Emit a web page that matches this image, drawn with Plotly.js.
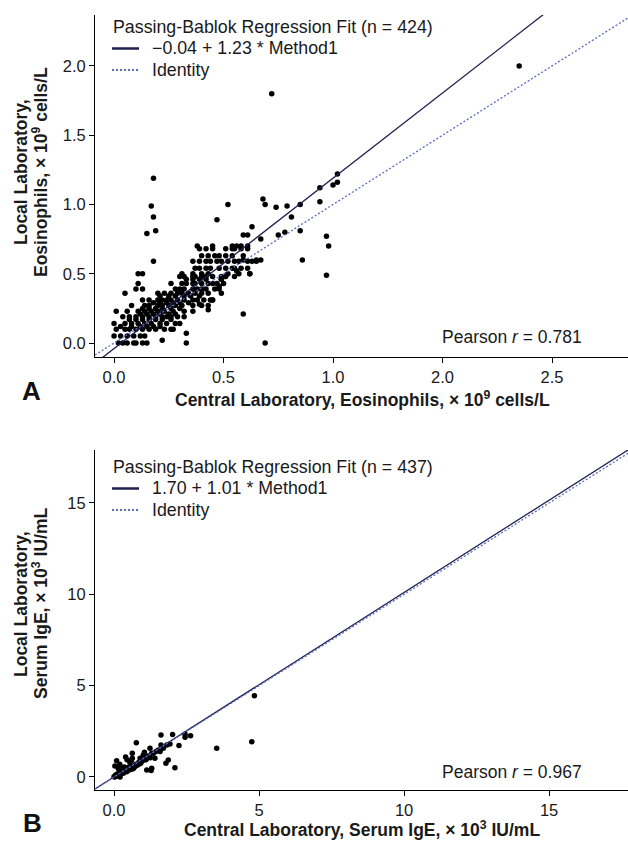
<!DOCTYPE html>
<html>
<head>
<meta charset="utf-8">
<script src="https://cdn.plot.ly/plotly-3.0.1.min.js"></script>
<style>html,body{margin:0;padding:0;background:#fff;}#chart{width:628px;height:843px;}</style>
</head>
<body>
<div id="chart"></div>
<script>
// ---------- Panel A: eosinophils (×10^9 cells/L) ----------
const xA = [
  0.02,0.04,0.06,0.09,0.10,0.13,0.15,0.33,0.69,
  0.22,0.33,
  0.00,0.03,0.06,0.09,0.12,0.14,
  0.01,0.05,0.07,0.10,0.13,0.16,0.19,0.23,0.26,0.27,
  0.03,0.08,0.12,0.15,0.18,0.21,
  0.00,0.05,0.08,0.11,0.14,0.17,0.21,0.24,0.28,0.30,
  0.07,0.10,0.13,0.16,0.19,0.22,0.26,
  0.04,0.07,0.10,0.13,0.16,0.19,0.22,0.24,0.26,0.29,0.32,
  0.12,0.15,0.18,0.21,0.25,0.28,
  0.01,0.06,0.11,0.14,0.17,0.20,0.23,0.27,0.32,0.36,
  0.13,0.16,0.19,0.22,0.26,0.30,
  0.08,0.14,0.16,0.20,0.22,0.25,0.28,0.31,0.36,0.40,0.43,
  0.18,0.21,0.24,0.27,0.30,0.34,
  0.13,0.16,0.20,0.22,0.24,0.26,0.29,0.32,0.36,0.38,0.41,0.44,0.45,
  0.21,0.25,0.28,0.32,0.35,0.39,
  0.05,0.20,0.23,0.26,0.29,0.31,0.34,0.37,0.40,0.43,0.49,
  0.10,0.13,0.28,0.30,0.32,0.36,0.38,0.40,0.42,0.46,0.48,
  0.11,0.26,0.31,0.33,0.36,0.37,0.40,0.43,0.45,0.47,0.50,
  0.33,0.36,0.39,0.42,0.49,
  0.30,0.32,0.36,0.37,0.40,0.42,0.45,0.49,0.51,0.55,
  0.11,0.13,0.31,0.36,0.40,0.43,0.52,0.57,0.62,
  0.37,0.39,0.42,0.44,0.48,0.51,0.54,0.55,0.58,0.61,
  0.18,0.36,0.39,0.42,0.44,0.47,0.49,0.52,0.55,0.57,0.61,0.63,0.65,
  0.40,0.43,0.46,0.48,0.51,0.54,0.59,
  0.39,0.42,0.45,0.51,0.54,0.55,0.58,0.61,
  0.38,0.45,0.54,0.56,0.58,0.61,
  0.59,0.61,
  0.48,0.45,0.43,0.39,0.49,0.62,0.56,0.59,0.65,0.67,
  0.18,0.17,0.18,0.19,0.15,0.52,0.47,0.68,0.69,0.74,0.79,0.85,0.94,0.94,0.81,
  0.85,0.78,0.75,0.67,0.63,0.86,0.97,0.98,0.97,1.02,1.00,1.02,0.59,0.72,1.85
];
const yA = [
  0,0,0,0,0,0,0,0,0,
  0.02,0.07,
  0.05,0.05,0.05,0.05,0.05,0.05,
  0.10,0.10,0.10,0.10,0.10,0.10,0.10,0.10,0.10,0.10,
  0.12,0.12,0.12,0.12,0.12,0.12,
  0.14,0.14,0.14,0.14,0.14,0.14,0.14,0.14,0.14,0.14,
  0.17,0.17,0.17,0.17,0.17,0.17,0.17,
  0.19,0.19,0.19,0.19,0.19,0.19,0.19,0.19,0.19,0.19,0.19,
  0.21,0.21,0.21,0.21,0.21,0.21,
  0.23,0.23,0.23,0.23,0.23,0.23,0.23,0.23,0.23,0.23,
  0.25,0.25,0.25,0.25,0.25,0.25,
  0.27,0.27,0.27,0.27,0.27,0.27,0.27,0.27,0.27,0.27,0.27,
  0.29,0.29,0.29,0.29,0.29,0.29,
  0.31,0.31,0.31,0.31,0.31,0.31,0.31,0.31,0.31,0.31,0.31,0.31,0.31,
  0.34,0.34,0.34,0.34,0.34,0.34,
  0.36,0.36,0.36,0.36,0.36,0.36,0.36,0.36,0.36,0.36,0.36,
  0.39,0.39,0.39,0.39,0.39,0.39,0.39,0.39,0.39,0.39,0.39,
  0.43,0.43,0.43,0.43,0.43,0.43,0.43,0.43,0.43,0.43,0.43,
  0.46,0.46,0.46,0.46,0.46,
  0.48,0.48,0.48,0.48,0.48,0.48,0.48,0.48,0.48,0.48,
  0.50,0.50,0.50,0.50,0.50,0.50,0.50,0.50,0.50,
  0.54,0.54,0.54,0.54,0.54,0.54,0.54,0.54,0.54,0.54,
  0.59,0.59,0.59,0.59,0.59,0.59,0.59,0.59,0.59,0.59,0.59,0.59,0.59,
  0.63,0.63,0.63,0.63,0.63,0.63,0.63,
  0.68,0.68,0.68,0.68,0.68,0.68,0.68,0.68,
  0.70,0.70,0.70,0.70,0.70,0.70,
  0.78,0.78,
  0.41,0.31,0.24,0.28,0.46,0.50,0.52,0.60,0.60,0.60,
  1.19,0.99,0.91,0.81,0.79,1.00,0.89,1.04,1.00,0.98,0.99,1.00,1.12,1.02,0.91,
  0.81,0.80,0.78,0.75,0.84,0.60,0.77,0.70,0.49,1.22,1.14,1.16,0.21,1.80,2.00
];
const fitA = {intercept: -0.04, slope: 1.23, n: 424, r: '0.781'};
const fitLabelA = '\u22120.04 + 1.23 * Method1';
const xTickValsA = [0, 0.5, 1.0, 1.5, 2.0];
const xTickTextA = ['0.0', '0.5', '1.0', '2.0', '2.5'];
const yTickValsA = [0, 0.5, 1.0, 1.5, 2.0];
const yTickTextA = ['0.0', '0.5', '1.0', '1.5', '2.0'];

// ---------- Panel B: serum IgE (×10^3 IU/mL) ----------
const xB = [
  4.84,4.75,3.54,2.64,2.45,2.45,2.24,2.02,2.10,1.62,0.77,1.87,1.79,1.62,1.59,1.41,1.24,1.30,
  1.13,1.30,1.28,1.01,0.95,0.90,0.63,0.63,0.55,0.09,0.03,0.21,0.32,0.44,0.09,0.21,0.03,
  0.00,0.15,0.23,0.32,0.38,0.44,0.53,0.61,0.67,0.72,0.80,0.87,0.95,1.03,1.13,1.22,1.36,1.45,
  1.53,1.70,1.82,1.93,
  0.05,0.10,0.12,0.18,0.25,0.28,0.35,0.40,0.48,0.50,0.58,0.70,0.75,0.85,0.92,1.05,1.10,1.18,
  1.25,0.15,0.20,0.40,0.45,0.60,0.35,1.05
];
const yB = [
  4.45,1.93,1.57,2.26,2.34,2.17,1.72,2.32,0.51,2.30,1.88,0.93,0.75,1.75,1.39,1.02,1.57,1.30,
  0.38,0.48,0.35,1.20,0.93,1.02,1.30,1.02,0.78,0.89,0.60,0.56,0.29,0.47,0.05,0.00,0.00,
  0.02,0.11,0.16,0.20,0.29,0.29,0.38,0.42,0.47,0.56,0.64,0.71,0.84,0.93,1.02,1.11,1.30,1.39,
  1.48,1.57,1.75,1.80,
  0.10,0.15,0.05,0.25,0.20,0.35,0.40,0.33,0.52,0.45,0.55,0.62,0.70,0.80,0.75,1.00,0.95,1.15,
  1.05,0.45,0.70,1.10,0.95,0.90,0.55,1.35
];
// intercept reported in IU/mL; axis is in ×10^3 IU/mL
const fitB = {interceptIU: 1.70, slope: 1.01, n: 437, r: '0.967'};
const fitLabelB = '1.70 + 1.01 * Method1';
const xTickValsB = [0, 5, 10, 15];
const xTickTextB = ['0.0', '5', '10', '15'];
const yTickValsB = [0, 5, 10, 15];

// ---------- layout helpers (pixel -> paper) ----------
const W = 628, H = 843;
const PX = v => v / W;
const PY = v => 1 - v / H;

const rangeAx = [-0.087, 2.347], rangeAy = [-0.101, 2.368];
const rangeBx = [-0.655, 17.72], rangeBy = [-0.712, 17.9];

const FONT = '"Liberation Sans", Arial, Helvetica, sans-serif';
const INK = '#1a1a1a';
const FIT_COLOR = '#1f1f4f';
const ID_COLOR = '#5b6bc0';
const ID_DASH = '2px,2px';

function lineTrace(xr, a, b, color, dash, xa, ya) {
  const xs = [xr[0], xr[1]];
  return {
    x: xs, y: xs.map(v => a + b * v), mode: 'lines', showlegend: false,
    line: {color: color, width: 1.3, dash: dash},
    xaxis: xa, yaxis: ya, hoverinfo: 'skip'
  };
}

const traces = [
  {x: xA, y: yA, mode: 'markers', type: 'scatter', showlegend: false,
   marker: {color: '#000', size: 5.5}, xaxis: 'x', yaxis: 'y'},
  lineTrace(rangeAx, fitA.intercept, fitA.slope, FIT_COLOR, 'solid', 'x', 'y'),
  lineTrace(rangeAx, 0, 1, ID_COLOR, ID_DASH, 'x', 'y'),
  {x: xB, y: yB, mode: 'markers', type: 'scatter', showlegend: false,
   marker: {color: '#000', size: 5.5}, xaxis: 'x2', yaxis: 'y2'},
  lineTrace(rangeBx, fitB.interceptIU / 1000, fitB.slope, FIT_COLOR, 'solid', 'x2', 'y2'),
  lineTrace(rangeBx, 0, 1, ID_COLOR, ID_DASH, 'x2', 'y2')
];

const axisStyle = {
  showline: true, linecolor: '#000', linewidth: 1,
  ticks: 'outside', ticklen: 5, tickwidth: 1, tickcolor: '#000',
  showgrid: false, zeroline: false,
  tickfont: {family: FONT, size: 16.5, color: INK}
};

const LEG_SIZE = 17.8;
function ann(text, x, y, opts) {
  return Object.assign({
    text: text, x: PX(x), y: PY(y), xref: 'paper', yref: 'paper',
    showarrow: false, xanchor: 'center', yanchor: 'middle',
    font: {family: FONT, size: 17.5, color: INK}
  }, opts || {});
}
const boldFont = {family: FONT, size: 17.5, color: INK, weight: 'bold'};
const legFont = {family: FONT, size: LEG_SIZE, color: INK};

// legend key built from paper-anchored shapes + annotations
function legendBlock(top, n, fitLabel) {
  const rows = [top, top + 21.5, top + 43];
  return {
    anns: [
      ann('Passing-Bablok Regression Fit (n = ' + n + ')', 111, rows[0], {xanchor: 'left', font: legFont}),
      ann(fitLabel, 150, rows[1], {xanchor: 'left', font: legFont}),
      ann('Identity', 150, rows[2], {xanchor: 'left', font: legFont})
    ],
    shapes: [
      {type: 'line', xref: 'paper', yref: 'paper', x0: PX(112), x1: PX(139), y0: PY(rows[1]), y1: PY(rows[1]),
       line: {color: FIT_COLOR, width: 2.5}},
      {type: 'line', xref: 'paper', yref: 'paper', x0: PX(112), x1: PX(139), y0: PY(rows[2]), y1: PY(rows[2]),
       line: {color: ID_COLOR, width: 2, dash: ID_DASH}}
    ]
  };
}
const legA = legendBlock(27, fitA.n, fitLabelA);
const legB = legendBlock(467, fitB.n, fitLabelB);

const layout = {
  width: W, height: H,
  margin: {l: 0, r: 0, t: 0, b: 0, pad: 0},
  paper_bgcolor: '#fff', plot_bgcolor: '#fff',
  font: {family: FONT, color: INK},
  showlegend: false,
  xaxis: Object.assign({}, axisStyle, {domain: [PX(95), 1], range: rangeAx, anchor: 'y',
    tickmode: 'array', tickvals: xTickValsA, ticktext: xTickTextA}),
  yaxis: Object.assign({}, axisStyle, {domain: [PY(357), PY(15)], range: rangeAy, anchor: 'x',
    tickmode: 'array', tickvals: yTickValsA, ticktext: yTickTextA}),
  xaxis2: Object.assign({}, axisStyle, {domain: [PX(95), 1], range: rangeBx, anchor: 'y2',
    tickmode: 'array', tickvals: xTickValsB, ticktext: xTickTextB}),
  yaxis2: Object.assign({}, axisStyle, {domain: [PY(790), PY(450)], range: rangeBy, anchor: 'x2',
    tickmode: 'array', tickvals: yTickValsB}),
  shapes: legA.shapes.concat(legB.shapes),
  annotations: legA.anns.concat(legB.anns, [
    ann('Pearson <i>r</i> = ' + fitA.r, 584, 337, {xanchor: 'right'}),
    ann('Pearson <i>r</i> = ' + fitB.r, 584, 772, {xanchor: 'right'}),
    ann('Central Laboratory, Eosinophils, \u00d7 10<sup>9</sup> cells/L', 362, 399, {font: boldFont}),
    ann('Central Laboratory, Serum IgE, \u00d7 10<sup>3</sup> IU/mL', 362, 829, {font: boldFont}),
    ann('Local Laboratory,', 21, 172, {font: boldFont, textangle: -90}),
    ann('Eosinophils, \u00d7 10<sup>9</sup> cells/L', 40, 172, {font: boldFont, textangle: -90}),
    ann('Local Laboratory,', 21, 604, {font: boldFont, textangle: -90}),
    ann('Serum IgE, \u00d7 10<sup>3</sup> IU/mL', 40, 604, {font: boldFont, textangle: -90}),
    ann('A', 31, 391, {font: {family: FONT, size: 26, color: '#111', weight: 'bold'}}),
    ann('B', 32, 823, {font: {family: FONT, size: 26, color: '#111', weight: 'bold'}})
  ])
};

Plotly.newPlot('chart', traces, layout, {staticPlot: true, displayModeBar: false});
</script>
</body>
</html>
